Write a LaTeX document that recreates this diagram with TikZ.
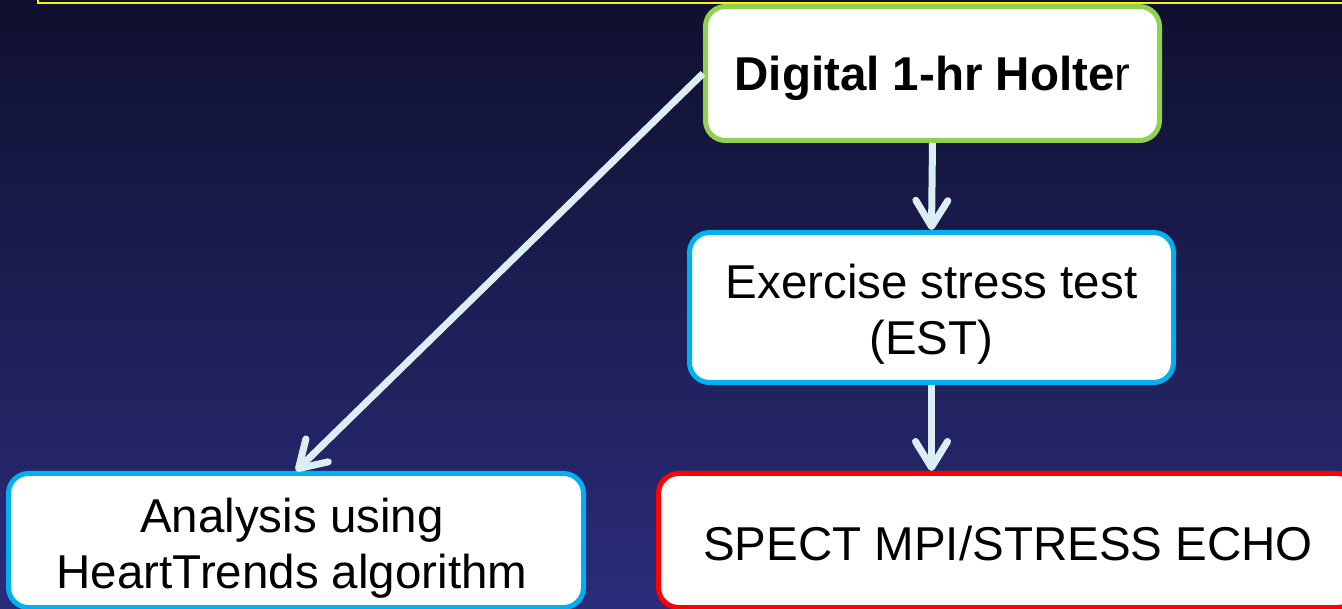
\documentclass[tikz,border=0pt]{standalone}
\usepackage{fontspec}
\setmainfont{Liberation Sans}
\usetikzlibrary{arrows.meta}

\definecolor{bgtop}{RGB}{15,16,46}
\definecolor{bgbot}{RGB}{43,44,122}
\definecolor{holtergreen}{RGB}{146,208,80}
\definecolor{testblue}{RGB}{0,176,240}
\definecolor{arrowcyan}{RGB}{218,238,243}

\begin{document}
\begin{tikzpicture}[x=1pt,y=-1pt,
  stepbox/.style={draw,fill=white,line width=5pt,rounded corners=20pt,inner sep=0pt},
  steptext/.style={align=center,inner sep=0pt,font=\fontsize{47.5}{56}\selectfont},
  flow/.style={draw=arrowcyan,line width=7pt,
    -{Straight Barb[length=26pt,width=32pt,round]}}]
\useasboundingbox (0,0) rectangle (1342,609);
\fill[top color=bgtop,bottom color=bgbot] (0,0) rectangle (1342,609);
\draw[yellow,line width=2pt] (38,-10)--(38,3)--(1350,3);
% boxes
\node[stepbox,draw=holtergreen,minimum width=454pt,minimum height=134pt] (holter) at (932.5,73.5) {};
\node[stepbox,draw=testblue,minimum width=484pt,minimum height=150pt] (est) at (931.5,307.5) {};
\node[stepbox,draw=testblue,minimum width=575pt,minimum height=134pt] (analysis) at (296,540.5) {};
\node[stepbox,draw=red,minimum width=699pt,minimum height=134pt] (spect) at (1008,540.5) {};
% texts
\node[steptext] (holter-txt) at ([yshift=-5pt]holter.center) {\textbf{Digital 1-hr Holte}r};
\node[steptext] (est-txt) at ([yshift=-7pt]est.center) {Exercise stress test\\(EST)};
\node[steptext] (analysis-txt) at ([xshift=-4pt,yshift=-8pt]analysis.center) {Analysis using\\HeartTrends algorithm};
\node[steptext] (spect-txt) at ([yshift=-3pt]spect.center) {SPECT MPI/STRESS ECHO};
% arrows
\draw[flow] (holter.west)--(analysis.north);
\draw[flow] (holter.south)--(est.north);
\draw[flow] (est.south)--(est.south |- spect.north);
\end{tikzpicture}
\end{document}
